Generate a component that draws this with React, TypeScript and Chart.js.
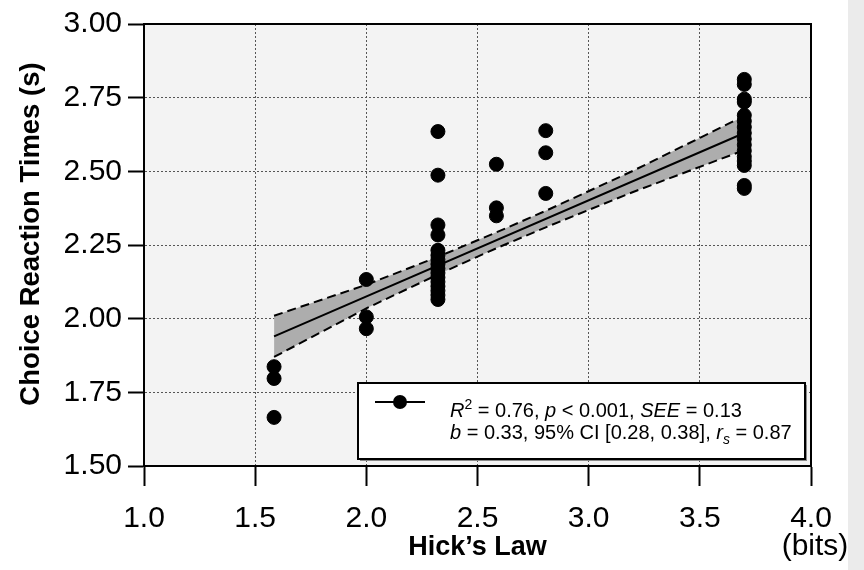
import React, { useEffect, useRef } from 'react';
import { Chart, registerables } from 'chart.js';

Chart.register(...registerables);

// Hick's Law information levels (bits)
const HICK_LEVELS = [1.585, 2.0, 2.322, 2.585, 2.807, 3.7];
// Choice reaction times (s) observed at each level
const RT_AT_1585 = [1.837, 1.797, 1.665];
const RT_AT_2000 = [2.133, 2.006, 1.966];
const RT_AT_2322 = [2.635, 2.487, 2.318, 2.284, 2.232, 2.215, 2.2, 2.185, 2.17, 2.155, 2.14, 2.125, 2.11, 2.095, 2.08, 2.065];
const RT_AT_2585 = [2.524, 2.376, 2.349];
const RT_AT_2807 = [2.638, 2.563, 2.425];
const RT_AT_3700 = [2.812, 2.795, 2.745, 2.735, 2.69, 2.67, 2.65, 2.63, 2.61, 2.59, 2.57, 2.55, 2.535, 2.52, 2.452, 2.442];
const RT_GROUPS = [RT_AT_1585, RT_AT_2000, RT_AT_2322, RT_AT_2585, RT_AT_2807, RT_AT_3700];

// Regression line and 95% confidence band
const FIT_X = [1.585, 3.7];
const FIT_Y = [1.94, 2.63];
const BAND_X = [1.585, 2.0, 2.322, 2.585, 2.807, 3.2, 3.7];
const BAND_UPPER = [2.01, 2.115, 2.21, 2.293, 2.366, 2.502, 2.688];
const BAND_LOWER = [1.87, 2.035, 2.15, 2.239, 2.31, 2.43, 2.572];

const X_TICK_LABELS = ['1.0', '1.5', '2.0', '2.5', '3.0', '3.5', '4.0'];
const Y_TICK_LABELS = ['1.50', '1.75', '2.00', '2.25', '2.50', '2.75', '3.00'];

const X_TITLE = 'Hick\u2019s Law';
const X_UNIT = '(bits)';
const Y_TITLE = 'Choice Reaction Times (s)';

type Seg = { t: string; it?: boolean; sup?: boolean; sub?: boolean };
const LEGEND_LINE_1: Seg[] = [
  { t: 'R', it: true }, { t: '2', sup: true }, { t: ' = 0.76, ' }, { t: 'p', it: true },
  { t: ' < 0.001, ' }, { t: 'SEE', it: true }, { t: ' = 0.13' },
];
const LEGEND_LINE_2: Seg[] = [
  { t: 'b', it: true }, { t: ' = 0.33, 95% CI [0.28, 0.38], ' }, { t: 'r', it: true },
  { t: 's', it: true, sub: true }, { t: ' = 0.87' },
];

const FONT = '"Liberation Sans", Arial, sans-serif';

function drawSegs(ctx: CanvasRenderingContext2D, segs: Seg[], x: number, y: number, size: number) {
  let cx = x;
  for (const s of segs) {
    const small = s.sup || s.sub;
    const fs = small ? Math.round(size * 0.68) : size;
    ctx.font = `${s.it ? 'italic ' : ''}${fs}px ${FONT}`;
    const dy = s.sup ? -size * 0.38 : s.sub ? size * 0.25 : 0;
    ctx.fillText(s.t, cx, y + dy);
    cx += ctx.measureText(s.t).width;
  }
}

const decorPlugin = {
  id: 'decor',
  beforeDraw(chart: any) {
    const { ctx, chartArea: a } = chart;
    ctx.save();
    ctx.fillStyle = '#ffffff';
    ctx.fillRect(0, 0, chart.width, chart.height);
    ctx.fillStyle = '#ebebeb';
    ctx.fillRect(848, 0, chart.width - 848, chart.height);
    ctx.fillStyle = '#f3f3f3';
    ctx.fillRect(a.left, a.top, a.right - a.left, a.bottom - a.top);
    ctx.restore();
  },
  afterDraw(chart: any) {
    const { ctx, chartArea: a } = chart;
    ctx.save();
    // frame
    ctx.strokeStyle = '#000';
    ctx.lineWidth = 2;
    ctx.strokeRect(a.left, a.top, a.right - a.left, a.bottom - a.top);
    // legend box
    const bx = 358, by = 383, bw = 447, bh = 76;
    ctx.fillStyle = '#8a8a8a';
    ctx.fillRect(bx + 2, by + 2, bw, bh);
    ctx.fillStyle = '#fff';
    ctx.fillRect(bx, by, bw, bh);
    ctx.strokeStyle = '#000';
    ctx.lineWidth = 2;
    ctx.strokeRect(bx, by, bw, bh);
    // legend symbol
    ctx.beginPath();
    ctx.moveTo(375, 402);
    ctx.lineTo(425, 402);
    ctx.stroke();
    ctx.fillStyle = '#000';
    ctx.beginPath();
    ctx.arc(400, 402, 7, 0, Math.PI * 2);
    ctx.fill();
    // legend text
    ctx.textBaseline = 'alphabetic';
    ctx.textAlign = 'left';
    drawSegs(ctx, LEGEND_LINE_1, 450, 417, 20);
    drawSegs(ctx, LEGEND_LINE_2, 450, 439, 20);
    // unit label
    ctx.font = `30px ${FONT}`;
    ctx.textAlign = 'center';
    ctx.textBaseline = 'middle';
    ctx.fillText(X_UNIT, a.right + 4, 547);
    // y axis title
    ctx.translate(31, 234);
    ctx.rotate(-Math.PI / 2);
    ctx.font = `bold 27.5px ${FONT}`;
    ctx.fillText(Y_TITLE, 0, 0);
    ctx.restore();
  },
};

export default function App() {
  const ref = useRef<HTMLCanvasElement | null>(null);
  useEffect(() => {
    if (!ref.current) return;
    const points: { x: number; y: number }[] = [];
    HICK_LEVELS.forEach((lv, i) => RT_GROUPS[i].forEach((rt) => points.push({ x: lv, y: rt })));
    const fit = FIT_X.map((x, i) => ({ x, y: FIT_Y[i] }));
    const upper = BAND_X.map((x, i) => ({ x, y: BAND_UPPER[i] }));
    const lower = BAND_X.map((x, i) => ({ x, y: BAND_LOWER[i] }));

    const chart = new Chart(ref.current, {
      type: 'scatter',
      data: {
        datasets: [
          {
            data: points,
            backgroundColor: '#000',
            borderColor: '#000',
            pointRadius: 7,
            pointHoverRadius: 7,
            showLine: false,
          },
          {
            data: fit,
            showLine: true,
            borderColor: '#000',
            borderWidth: 2,
            pointRadius: 0,
            fill: false,
          },
          {
            data: upper,
            showLine: true,
            borderColor: '#000',
            borderWidth: 2,
            borderDash: [9, 5],
            pointRadius: 0,
            backgroundColor: '#adadad',
            fill: '+1',
          },
          {
            data: lower,
            showLine: true,
            borderColor: '#000',
            borderWidth: 2,
            borderDash: [9, 5],
            pointRadius: 0,
            fill: false,
          },
        ] as any,
      },
      plugins: [decorPlugin],
      options: {
        responsive: false,
        devicePixelRatio: 1,
        animation: false,
        events: [],
        layout: { padding: { left: 0, top: 21, right: 53, bottom: 0 } },
        plugins: {
          legend: { display: false },
          tooltip: { enabled: false },
          filler: { drawTime: 'beforeDatasetsDraw' },
        } as any,
        scales: {
          x: {
            type: 'linear',
            min: 1,
            max: 4,
            afterFit: (s: any) => { s.height = 104; },
            ticks: {
              stepSize: 0.5,
              color: '#000',
              font: { family: FONT, size: 30 },
              padding: 15,
              maxRotation: 0,
              callback: (_v: any, i: number) => X_TICK_LABELS[i],
            },
            grid: {
              color: '#555',
              lineWidth: 1,
              tickColor: '#000',
              tickLength: 20,
              tickWidth: 2,
            },
            border: { display: true, color: '#000', width: 2, dash: [2, 2] },
            title: {
              display: true,
              text: X_TITLE,
              color: '#000',
              font: { family: FONT, size: 27, weight: 'bold' },
              padding: { top: 0, bottom: 6 },
            },
          },
          y: {
            type: 'linear',
            min: 1.5,
            max: 3,
            afterFit: (s: any) => { s.width = 144; },
            ticks: {
              stepSize: 0.25,
              color: '#000',
              font: { family: FONT, size: 30 },
              padding: 6,
              callback: (_v: any, i: number) => Y_TICK_LABELS[i],
            },
            grid: {
              color: '#555',
              lineWidth: 1,
              tickColor: '#000',
              tickLength: 16,
              tickWidth: 2,
            },
            border: { display: true, color: '#000', width: 2, dash: [2, 2] },
            title: { display: false },
          },
        } as any,
      },
    });
    return () => chart.destroy();
  }, []);
  return (
    <div style={{ position: 'fixed', left: 0, top: 0, width: 864, height: 570, background: '#fff' }}>
      <canvas ref={ref} width={864} height={570} style={{ width: 864, height: 570, display: 'block' }} />
    </div>
  );
}
